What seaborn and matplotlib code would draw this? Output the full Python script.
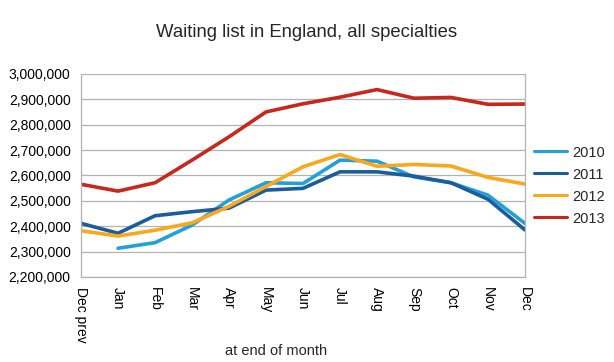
import numpy as np
import pandas as pd
import seaborn as sns
import matplotlib.pyplot as plt
from matplotlib.ticker import FuncFormatter

# data
months = ["Dec prev", "Jan", "Feb", "Mar", "Apr", "May", "Jun",
          "Jul", "Aug", "Sep", "Oct", "Nov", "Dec"]
wl_2010 = [np.nan, 2313000, 2335000, 2404000, 2503000, 2571000, 2568000,
           2660000, 2656000, 2594000, 2571000, 2522000, 2411000]
wl_2011 = [2411000, 2372000, 2441000, 2457000, 2471000, 2542000, 2549000,
           2614000, 2614000, 2597000, 2571000, 2506000, 2385000]
wl_2012 = [2382000, 2361000, 2384000, 2413000, 2478000, 2556000, 2634000,
           2682000, 2636000, 2643000, 2637000, 2592000, 2566000]
wl_2013 = [2565000, 2538000, 2571000, 2660000, 2752000, 2850000, 2882000,
           2908000, 2938000, 2904000, 2907000, 2880000, 2881000]
years = ["2010", "2011", "2012", "2013"]
colours = ["#22a0da", "#1b5d9c", "#fba71b", "#c9261c"]

rows = []
for yr, vals in zip(years, [wl_2010, wl_2011, wl_2012, wl_2013]):
    for i, v in enumerate(vals):
        rows.append({"pos": i, "year": yr, "value": v})
df = pd.DataFrame(rows).dropna()

sns.set_style("white")
plt.rcParams['font.family'] = ['Liberation Sans', 'DejaVu Sans']

fig = plt.figure(figsize=(6.14, 3.62), dpi=100)
ax = fig.add_axes([0.132, 0.235, 0.723, 0.561])

sns.lineplot(data=df, x="pos", y="value", hue="year", hue_order=years,
             palette=colours, linewidth=2.6, ax=ax, legend=True)

ax.set_xlim(0, len(months) - 1)
ax.set_ylim(2200000, 3000000)
ax.set_yticks(np.arange(2200000, 3000001, 100000))
ax.yaxis.set_major_formatter(FuncFormatter(lambda v, p: f"{int(v):,}"))
ax.set_xticks(np.arange(len(months)))
ax.set_xticklabels(months, rotation=270, va="top", ha="center")
ax.tick_params(axis="both", labelsize=10, colors="black", direction="out",
               length=4, width=0.8)
ax.tick_params(axis="both", color="#b3b3b3")
ax.yaxis.grid(True, color="#b3b3b3", linewidth=0.9)
ax.xaxis.grid(False)
for side in ["left", "bottom", "right"]:
    ax.spines[side].set_visible(True)
    ax.spines[side].set_color("#b3b3b3")
    ax.spines[side].set_linewidth(0.9)
ax.spines["top"].set_visible(False)

ax.set_ylabel("")
ax.set_xlabel("at end of month", fontsize=10.5)
ax.xaxis.set_label_coords(0.44, -0.33)

fig.suptitle("Waiting list in England, all specialties", fontsize=13.3,
             x=0.5, y=0.935)

leg = ax.legend(loc="center left", bbox_to_anchor=(1.0, 0.45), frameon=False,
                fontsize=10.5, handlelength=2.3, handletextpad=0.35,
                labelspacing=0.55, borderaxespad=0.2)
for line in leg.get_lines():
    line.set_linewidth(2.2)

fig.savefig("out.png", dpi=100)
